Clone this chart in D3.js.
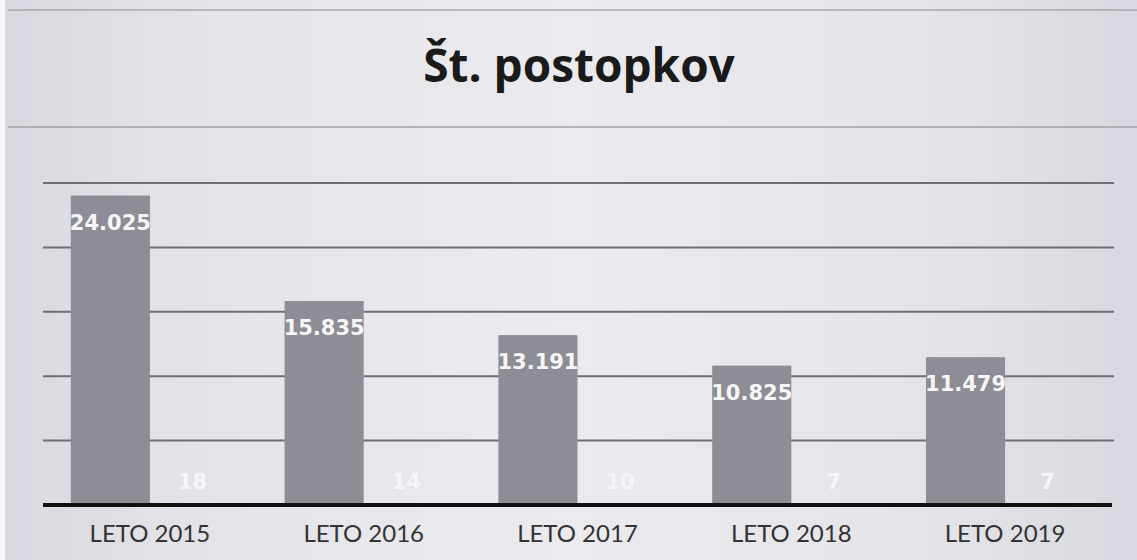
<!DOCTYPE html>
<html lang="sl">
<head>
	<meta charset="UTF-8">
	<title>Št. postopkov</title>
	<script src="https://d3js.org/d3.v7.min.js"></script>
	<style type="text/css">
		body { margin: 0; background: #e2e2e8; }
		.grid line { stroke: #6e6e74; stroke-width: 2; }
		.cat { font-family: Lato, "Open Sans", sans-serif; font-size: 24px; fill: #333; }
		.lbl { font-family: "DejaVu Sans", Verdana, sans-serif; font-weight: bold; font-size: 21px; fill: #f6f6f8; }
	</style>
</head>
<body>
<script type="text/javascript">

	// data
	var years = ['LETO 2015', 'LETO 2016', 'LETO 2017', 'LETO 2018', 'LETO 2019'];
	var series = ['postopki', 'drugo'];
	var postopki = [24025, 15835, 13191, 10825, 11479];
	var drugo = [18, 14, 10, 7, 7];
	var yTicks = [0, 5000, 10000, 15000, 20000, 25000];

	var W = 1137, H = 560;

	var svg = d3.select('body').append('svg')
		.attr('width', W)
		.attr('height', H);

	// scanned paper look
	var defs = svg.append('defs');
	var grad = defs.append('linearGradient').attr('id', 'paper')
		.attr('x1', 0).attr('x2', 1).attr('y1', 0).attr('y2', 0);
	grad.append('stop').attr('offset', '0%').attr('stop-color', '#d8d8e0');
	grad.append('stop').attr('offset', '15%').attr('stop-color', '#e2e2e8');
	grad.append('stop').attr('offset', '50%').attr('stop-color', '#ebebef');
	grad.append('stop').attr('offset', '85%').attr('stop-color', '#e2e2e8');
	grad.append('stop').attr('offset', '100%').attr('stop-color', '#d8d8e0');

	svg.append('rect').attr('width', W).attr('height', H).attr('fill', 'url(#paper)');
	svg.append('rect').attr('width', 5).attr('height', H).attr('fill', '#f7f7f9');
	svg.append('line').attr('x1', 8).attr('x2', W).attr('y1', 10).attr('y2', 10)
		.attr('stroke', '#a8a8ae').attr('stroke-width', 1.5);
	svg.append('line').attr('x1', 8).attr('x2', W).attr('y1', 127).attr('y2', 127)
		.attr('stroke', '#a0a0a6').attr('stroke-width', 1.5);

	//scaling
	var x0 = d3.scaleBand()
		.domain(years)
		.range([43, 1112])
		.paddingInner(0.26)
		.paddingOuter(0.13);

	var x1 = d3.scaleBand()
		.domain(series)
		.range([0, x0.bandwidth()]);

	var y = d3.scaleLinear()
		.domain([0, 25000])
		.range([505, 183]);

	//gridlines
	svg.append('g')
		.attr('class', 'grid')
		.selectAll('line')
		.data(yTicks.slice(1))
		.enter().append('line')
		.attr('x1', 43)
		.attr('x2', 1114)
		.attr('y1', function (d) { return y(d); })
		.attr('y2', function (d) { return y(d); });

	//title
	svg.append('text')
		.attr('x', 579)
		.attr('y', 82)
		.attr('text-anchor', 'middle')
		.style('font-family', '"Open Sans", sans-serif')
		.style('font-weight', 'bold')
		.style('font-size', '46px')
		.style('fill', '#1a1a1a')
		.text('Št. postopkov');

	var groups = svg.selectAll('.grp')
		.data(years)
		.enter().append('g')
		.attr('class', 'grp')
		.attr('transform', function (d) { return 'translate(' + x0(d) + ',0)'; });

	// bars
	groups.append('rect')
		.attr('x', x1('postopki'))
		.attr('width', x1.bandwidth())
		.attr('y', function (d, i) { return y(postopki[i]); })
		.attr('height', function (d, i) { return y(0) - y(postopki[i]); })
		.style('fill', '#8d8d95');

	groups.append('rect')
		.attr('x', x1('drugo'))
		.attr('width', x1.bandwidth())
		.attr('y', function (d, i) { return y(drugo[i]); })
		.attr('height', function (d, i) { return y(0) - y(drugo[i]); })
		.style('fill', '#8d8d95');

	// value labels
	groups.append('text')
		.attr('class', 'lbl')
		.attr('text-anchor', 'middle')
		.attr('x', x1('postopki') + x1.bandwidth() / 2)
		.attr('y', function (d, i) { return y(postopki[i]) + 34; })
		.text(function (d, i) { return d3.format(',')(postopki[i]).replace(/,/g, '.'); });

	groups.append('text')
		.attr('class', 'lbl')
		.attr('text-anchor', 'middle')
		.attr('x', x1('drugo') + x1.bandwidth() / 2 + 3)
		.attr('y', function (d, i) { return y(drugo[i]) - 16; })
		.text(function (d, i) { return drugo[i]; });

	// baseline
	svg.append('line')
		.attr('x1', 43).attr('x2', 1112)
		.attr('y1', y(0)).attr('y2', y(0))
		.attr('stroke', '#111').attr('stroke-width', 4);

	// category labels
	groups.append('text')
		.attr('class', 'cat')
		.attr('text-anchor', 'middle')
		.attr('x', x0.bandwidth() / 2)
		.attr('y', 542)
		.text(function (d) { return d; });

</script>
</body>
</html>
